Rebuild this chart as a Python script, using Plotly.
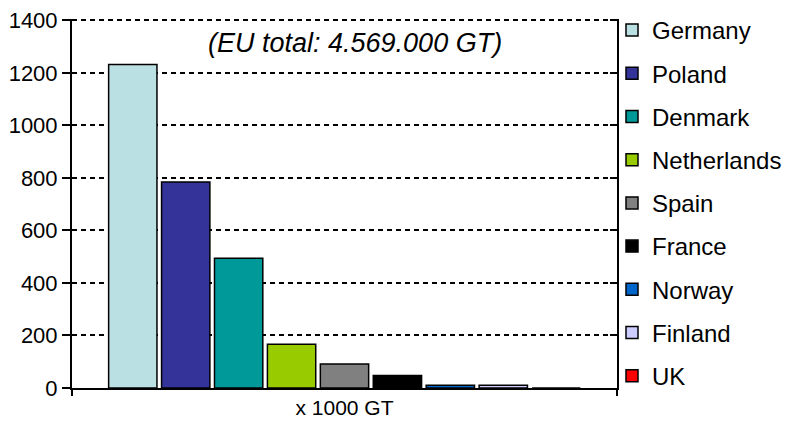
import plotly.graph_objects as go

countries = ["Germany", "Poland", "Denmark", "Netherlands", "Spain", "France", "Norway", "Finland", "UK"]
values = [1232, 784, 494, 167, 91, 48, 10, 10, 0]
colors = ["#BBE0E3", "#333399", "#009999", "#99CC00", "#808080", "#000000", "#0066CC", "#CCCCFF", "#FF0000"]
category = ["x 1000 GT"]
y_ticks = [0, 200, 400, 600, 800, 1000, 1200, 1400]
y_max = 1405
note = "(EU total: 4.569.000 GT)"

FONT = "Liberation Sans, Arial, sans-serif"

fig = go.Figure()
for i, (c, v, col) in enumerate(zip(countries, values, colors)):
    fig.add_trace(go.Bar(
        x=category, y=[v], name=c, legendgroup=c,
        marker=dict(color=col, line=dict(color="black", width=1.5)),
    ))
# helper trace for right-hand frame axis
fig.add_trace(go.Scatter(x=category, y=[None], yaxis="y2", showlegend=False, hoverinfo="skip"))

fig.update_layout(
    width=793, height=428,
    margin=dict(l=64, r=184, t=10.7, b=48, autoexpand=False),
    paper_bgcolor="white", plot_bgcolor="white",
    barmode="group", bargap=0.126, bargroupgap=0.087,
    font=dict(family=FONT, color="black"),
    xaxis=dict(
        type="category", showline=True, linecolor="black", linewidth=2,
        ticks="outside", tickson="boundaries", ticklen=6, tickwidth=2, tickcolor="black",
        tickfont=dict(size=21), showgrid=False, range=[-0.5, 0.5], automargin=False,
    ),
    yaxis=dict(
        range=[0, y_max], tickvals=y_ticks, showline=True, linecolor="black", linewidth=2,
        ticks="outside", ticklen=8, tickwidth=2, tickcolor="black",
        tickfont=dict(size=22), showgrid=True, gridcolor="black", gridwidth=2,
        griddash="5px,4px", zeroline=False, automargin=False, ticklabeloverflow="allow",
    ),
    yaxis2=dict(
        range=[0, y_max], tickvals=y_ticks, overlaying="y", side="right",
        showline=True, linecolor="black", linewidth=2, ticks="inside", ticklen=7,
        tickwidth=2, tickcolor="black", showticklabels=False, showgrid=False, zeroline=False,
        automargin=False,
    ),
    legend=dict(
        xref="container", yref="container",
        x=604 / 793, xanchor="left", y=1.0, yanchor="top",
        font=dict(size=24, family=FONT), tracegroupgap=9, maxheight=428,
        bgcolor="rgba(0,0,0,0)", itemclick=False,
    ),
    showlegend=True,
    annotations=[dict(
        text="<i>" + note + "</i>", xref="paper", yref="paper", x=0.52, y=0.935,
        xanchor="center", yanchor="middle", showarrow=False,
        font=dict(size=27, family=FONT, color="black"),
    )],
)

fig.write_html("out.html")
